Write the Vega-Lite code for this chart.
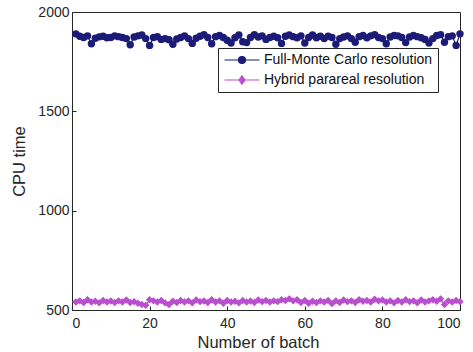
{
  "$schema": "https://vega.github.io/schema/vega-lite/v6.json",
  "width": 388,
  "height": 298,
  "autosize": {"type": "none"},
  "padding": {"left": 72, "top": 12, "right": 13, "bottom": 42},
  "background": "white",
  "config": {
    "font": "Liberation Sans",
    "view": {"stroke": "#262626", "strokeWidth": 1},
    "axis": {"grid": false, "domainColor": "#262626", "tickColor": "#262626", "labelColor": "#262626", "titleColor": "#262626", "labelFontSize": 14, "titleFontSize": 16.5, "titleFontWeight": "normal", "tickSize": -4, "labelPadding": 7}
  },
  "data": {"values": [
    {"batch":1,"mc":1890,"hy":540},{"batch":2,"mc":1878,"hy":546},{"batch":3,"mc":1872,"hy":538},{"batch":4,"mc":1880,"hy":552},{"batch":5,"mc":1840,"hy":540},
    {"batch":6,"mc":1868,"hy":544},{"batch":7,"mc":1875,"hy":536},{"batch":8,"mc":1878,"hy":548},{"batch":9,"mc":1870,"hy":540},{"batch":10,"mc":1872,"hy":545},
    {"batch":11,"mc":1880,"hy":538},{"batch":12,"mc":1876,"hy":546},{"batch":13,"mc":1872,"hy":540},{"batch":14,"mc":1866,"hy":550},{"batch":15,"mc":1835,"hy":538},
    {"batch":16,"mc":1874,"hy":542},{"batch":17,"mc":1880,"hy":534},{"batch":18,"mc":1884,"hy":528},{"batch":19,"mc":1866,"hy":524},{"batch":20,"mc":1832,"hy":552},
    {"batch":21,"mc":1872,"hy":546},{"batch":22,"mc":1876,"hy":540},{"batch":23,"mc":1862,"hy":548},{"batch":24,"mc":1866,"hy":536},{"batch":25,"mc":1860,"hy":528},
    {"batch":26,"mc":1838,"hy":544},{"batch":27,"mc":1864,"hy":538},{"batch":28,"mc":1872,"hy":548},{"batch":29,"mc":1880,"hy":540},{"batch":30,"mc":1866,"hy":546},
    {"batch":31,"mc":1842,"hy":536},{"batch":32,"mc":1868,"hy":550},{"batch":33,"mc":1878,"hy":542},{"batch":34,"mc":1886,"hy":545},{"batch":35,"mc":1872,"hy":538},
    {"batch":36,"mc":1840,"hy":552},{"batch":37,"mc":1876,"hy":540},{"batch":38,"mc":1882,"hy":546},{"batch":39,"mc":1872,"hy":534},{"batch":40,"mc":1858,"hy":548},
    {"batch":41,"mc":1844,"hy":540},{"batch":42,"mc":1870,"hy":544},{"batch":43,"mc":1884,"hy":536},{"batch":44,"mc":1850,"hy":548},{"batch":45,"mc":1846,"hy":540},
    {"batch":46,"mc":1872,"hy":545},{"batch":47,"mc":1886,"hy":538},{"batch":48,"mc":1874,"hy":550},{"batch":49,"mc":1880,"hy":542},{"batch":50,"mc":1862,"hy":548},
    {"batch":51,"mc":1872,"hy":540},{"batch":52,"mc":1878,"hy":546},{"batch":53,"mc":1870,"hy":542},{"batch":54,"mc":1842,"hy":552},{"batch":55,"mc":1878,"hy":548},
    {"batch":56,"mc":1884,"hy":556},{"batch":57,"mc":1876,"hy":546},{"batch":58,"mc":1870,"hy":552},{"batch":59,"mc":1880,"hy":538},{"batch":60,"mc":1844,"hy":548},
    {"batch":61,"mc":1872,"hy":534},{"batch":62,"mc":1884,"hy":544},{"batch":63,"mc":1870,"hy":538},{"batch":64,"mc":1878,"hy":546},{"batch":65,"mc":1866,"hy":540},
    {"batch":66,"mc":1878,"hy":548},{"batch":67,"mc":1872,"hy":532},{"batch":68,"mc":1838,"hy":546},{"batch":69,"mc":1866,"hy":538},{"batch":70,"mc":1874,"hy":550},
    {"batch":71,"mc":1880,"hy":542},{"batch":72,"mc":1866,"hy":546},{"batch":73,"mc":1848,"hy":538},{"batch":74,"mc":1876,"hy":552},{"batch":75,"mc":1882,"hy":544},
    {"batch":76,"mc":1870,"hy":548},{"batch":77,"mc":1880,"hy":540},{"batch":78,"mc":1886,"hy":554},{"batch":79,"mc":1872,"hy":546},{"batch":80,"mc":1866,"hy":550},
    {"batch":81,"mc":1840,"hy":540},{"batch":82,"mc":1874,"hy":546},{"batch":83,"mc":1882,"hy":536},{"batch":84,"mc":1880,"hy":548},{"batch":85,"mc":1872,"hy":540},
    {"batch":86,"mc":1846,"hy":552},{"batch":87,"mc":1874,"hy":542},{"batch":88,"mc":1882,"hy":546},{"batch":89,"mc":1876,"hy":536},{"batch":90,"mc":1870,"hy":550},
    {"batch":91,"mc":1862,"hy":540},{"batch":92,"mc":1844,"hy":546},{"batch":93,"mc":1866,"hy":552},{"batch":94,"mc":1882,"hy":544},{"batch":95,"mc":1886,"hy":556},
    {"batch":96,"mc":1848,"hy":528},{"batch":97,"mc":1876,"hy":546},{"batch":98,"mc":1880,"hy":540},{"batch":99,"mc":1832,"hy":548},{"batch":100,"mc":1890,"hy":542}
  ]},
  "transform": [
    {"fold": ["mc", "hy"], "as": ["key", "cpu"]},
    {"lookup": "key", "from": {"data": {"values": [{"key": "mc", "series": "Full-Monte Carlo resolution"}, {"key": "hy", "series": "Hybrid parareal resolution"}]}, "key": "key", "fields": ["series"]}}
  ],
  "encoding": {
    "x": {"field": "batch", "type": "quantitative", "title": "Number of batch", "scale": {"domain": [0, 100], "nice": false}, "axis": {"values": [0, 20, 40, 60, 80, 100], "labelPadding": 10, "titlePadding": 4, "titleX": 186}},
    "y": {"field": "cpu", "type": "quantitative", "title": "CPU time", "scale": {"domain": [500, 2000], "nice": false}, "axis": {"values": [500, 1000, 1500, 2000], "format": "d", "titlePadding": 10}}
  },
  "layer": [
    {
      "mark": {"type": "line", "strokeWidth": 1.2},
      "encoding": {
        "color": {"field": "series", "type": "nominal", "title": null, "scale": {"domain": ["Full-Monte Carlo resolution", "Hybrid parareal resolution"], "range": ["#1c1c78", "#b94fce"]},
          "legend": {"orient": "none", "legendX": 146, "legendY": 36, "strokeColor": "#262626", "fillColor": "white", "padding": 5, "labelFontSize": 14, "labelLimit": 400, "labelColor": "#111111", "labelOffset": 15, "symbolSize": 100, "symbolOffset": 12, "rowPadding": 6,
            "encode": {"symbols": {"update": {
              "shape": {"signal": "datum.value === 'Full-Monte Carlo resolution' ? 'M-3.5,0L3.5,0M-0.7,0A0.7,0.7 0 1,0 0.7,0A0.7,0.7 0 1,0 -0.7,0Z' : 'M-3.5,0L3.5,0M0,-0.85L0.6,0L0,0.85L-0.6,0Z'"},
              "stroke": {"scale": "color", "field": "value"},
              "fill": {"scale": "color", "field": "value"},
              "strokeWidth": {"value": 1.2}
            }}}}}
      }
    },
    {
      "mark": {"type": "point", "filled": true, "size": 55, "opacity": 1},
      "encoding": {
        "color": {"field": "series", "type": "nominal", "legend": null},
        "shape": {"field": "series", "type": "nominal", "scale": {"domain": ["Full-Monte Carlo resolution", "Hybrid parareal resolution"], "range": ["circle", "diamond"]}, "legend": null}
      }
    }
  ],
  "resolve": {"legend": {"color": "independent"}}
}
